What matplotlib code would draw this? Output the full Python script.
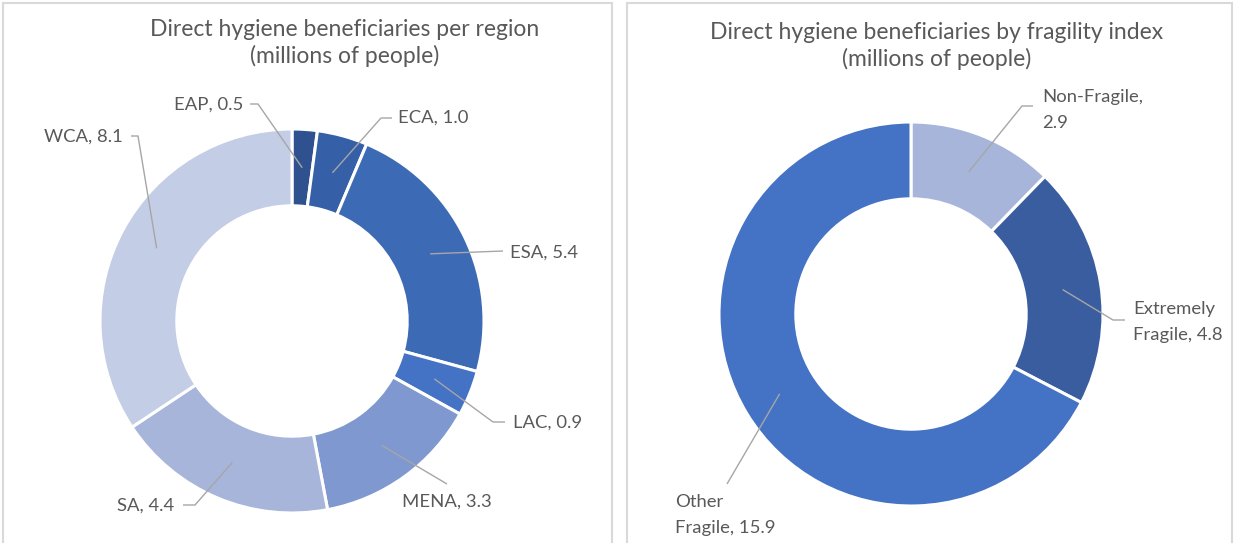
import numpy as np
import matplotlib
matplotlib.use("Agg")
import matplotlib.pyplot as plt
from matplotlib.patches import Rectangle

# chart data
region_names = ["EAP", "ECA", "ESA", "LAC", "MENA", "SA", "WCA"]
region_values = [0.5, 1.0, 5.4, 0.9, 3.3, 4.4, 8.1]
region_colors = ["#2F5190", "#3560A8", "#3D6AB5", "#4472C4", "#8098D0", "#A7B5DA", "#C4CDE6"]

fragility_names = ["Non-Fragile", "Extremely Fragile", "Other Fragile"]
fragility_labels = ["Non-Fragile,\n2.9", "Extremely\nFragile, 4.8", "Other\nFragile, 15.9"]
fragility_values = [2.9, 4.8, 15.9]
fragility_colors = ["#A8B5DA", "#3A5DA0", "#4472C4"]

W, H = 1234, 543
TEXT = "#595959"
LINE = "#A6A6A6"
FONT = "Lato"

plt.rcParams["font.family"] = [FONT, "DejaVu Sans"]


def px(x, y):
    # pixel position (origin top-left) -> data coords
    return x, H - y


fig = plt.figure(figsize=(W / 100, H / 100), dpi=100)
ax = fig.add_axes([0, 0, 1, 1])


def donut(center, radius, values, colors):
    wedges, _ = ax.pie(values, colors=colors, center=px(*center), radius=radius,
                       startangle=90, counterclock=False,
                       wedgeprops=dict(width=0.4 * radius, edgecolor="white", linewidth=2.2))
    anchors = []
    for w in wedges:
        mid = np.deg2rad((w.theta1 + w.theta2) / 2)
        r = 0.8 * w.r
        anchors.append((w.center[0] + r * np.cos(mid), w.center[1] + r * np.sin(mid)))
    return anchors


def label(anchor, path, text, pos, ha):
    xs = [anchor[0]] + [p[0] for p in path]
    ys = [anchor[1]] + [H - p[1] for p in path]
    ax.plot(xs, ys, color=LINE, lw=1.0, solid_capstyle="butt")
    ax.text(*px(*pos), text, ha=ha, va="center", fontsize=13.3, color=TEXT,
            linespacing=1.75)


# panel frames
ax.add_patch(Rectangle(px(3, 560), 609, 557, fill=False, ec="#D9D9D9", lw=1.5))
ax.add_patch(Rectangle(px(627, 560), 605, 557, fill=False, ec="#D9D9D9", lw=1.5))

# left donut
left_anchors = donut((292, 321), 192, region_values, region_colors)
left_layout = [
    ([(258, 104), (250, 104)], (243, 105), "right"),
    ([(381, 118), (392, 118)], (398, 118), "left"),
    ([(503, 251)], (510, 253), "left"),
    ([(493, 422), (505, 422)], (513, 423), "left"),
    ([(447, 484)], (402, 502), "left"),
    ([(195, 505), (183, 505)], (117, 506), "left"),
    ([(138, 136), (131, 136)], (123, 137), "right"),
]
for a, name, v, (path, pos, ha) in zip(left_anchors, region_names, region_values, left_layout):
    label(a, path, f"{name}, {v:.1f}", pos, ha)

# right donut
right_anchors = donut((911, 314), 192, fragility_values, fragility_colors)
right_layout = [
    ([(1022, 106), (1033, 106)], (1042, 110), "left"),
    ([(1113, 320), (1125, 320)], (1133, 322), "left"),
    ([(727, 484)], (675, 515), "left"),
]
for a, text, (path, pos, ha) in zip(right_anchors, fragility_labels, right_layout):
    label(a, path, text, pos, ha)

# titles
ax.text(*px(345, 43), "Direct hygiene beneficiaries per region\n(millions of people)",
        ha="center", va="center", fontsize=16.5, color=TEXT, linespacing=1.3)
ax.text(*px(937, 46), "Direct hygiene beneficiaries by fragility index\n(millions of people)",
        ha="center", va="center", fontsize=16.5, color=TEXT, linespacing=1.3)

ax.set_xlim(0, W)
ax.set_ylim(0, H)
ax.set_aspect("auto")
ax.axis("off")

fig.savefig("out.png", dpi=100, facecolor="white")
